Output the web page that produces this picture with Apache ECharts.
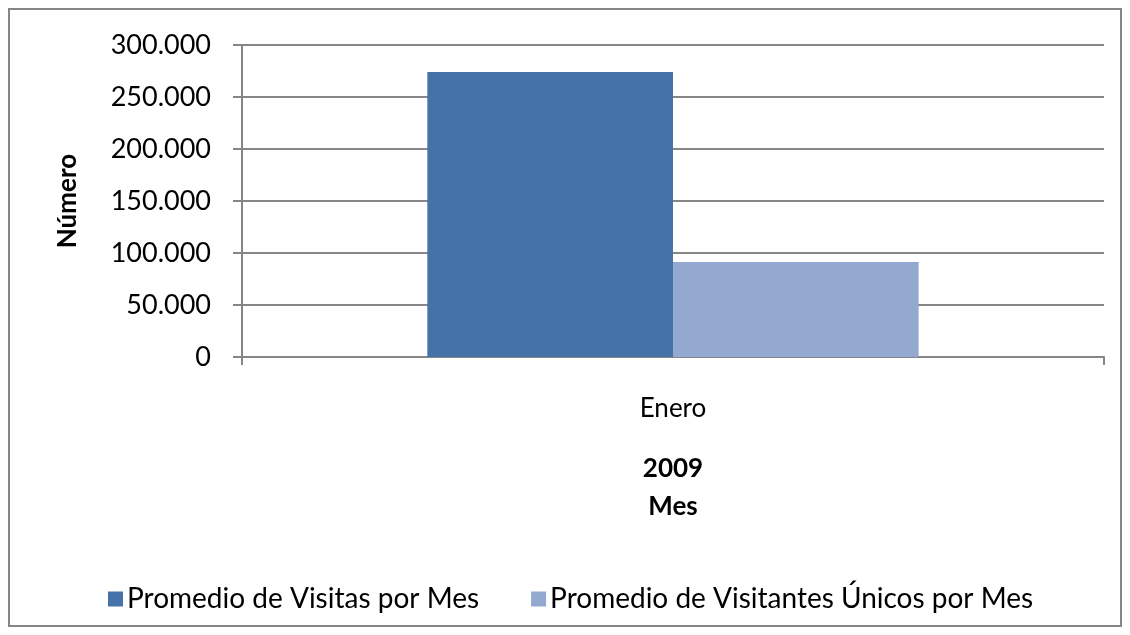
<!DOCTYPE html>
<html>
<head>
<meta charset="utf-8">
<script src="https://cdn.jsdelivr.net/npm/echarts@6/dist/echarts.min.js"></script>
<style>
html,body{margin:0;padding:0;background:#fff;}
#chart{width:1130px;height:635px;}
</style>
</head>
<body>
<div id="chart"></div>
<script>
const categories = ['Enero'];
const seriesNames = ['Promedio de Visitas por Mes', 'Promedio de Visitantes Únicos por Mes'];
const visitas = [274000];
const visitantesUnicos = [91300];
const yMin = 0, yMax = 300000, yInterval = 50000;

const FONT = 'Lato';
const GRAY = '#868686';

function fmt(v) {
  return String(v).replace(/\B(?=(\d{3})+(?!\d))/g, '.');
}

const chart = echarts.init(document.getElementById('chart'));
chart.setOption({
  backgroundColor: '#fff',
  animation: false,
  textStyle: { fontFamily: FONT },
  graphic: [{
    type: 'rect',
    shape: { x: 9, y: 9, width: 1112, height: 617 },
    style: { fill: 'none', stroke: GRAY, lineWidth: 2 },
    silent: true
  }],
  grid: { left: 242, right: 26, top: 45, bottom: 278 },
  legend: {
    left: 103, top: 580,
    itemWidth: 15, itemHeight: 15, itemGap: 52,
    icon: 'rect',
    textStyle: { fontFamily: FONT, fontSize: 28, color: '#000', padding: [0,0,0,-1] },
    data: seriesNames
  },
  xAxis: {
    type: 'category',
    data: categories,
    name: '2009\nMes',
    nameLocation: 'middle',
    nameGap: 93,
    nameTextStyle: { fontFamily: FONT, fontSize: 26, fontWeight: 'bold', color: '#000', lineHeight: 38 },
    axisLine: { lineStyle: { color: GRAY, width: 2 } },
    axisTick: { show: true, length: 8, lineStyle: { color: GRAY, width: 2 } },
    axisLabel: { margin: 39, fontFamily: FONT, fontSize: 26, color: '#000' }
  },
  yAxis: {
    type: 'value',
    min: yMin, max: yMax, interval: yInterval,
    name: 'Número',
    nameLocation: 'middle',
    nameGap: 161,
    nameTextStyle: { fontFamily: FONT, fontSize: 26, fontWeight: 'bold', color: '#000' },
    axisLine: { show: true, lineStyle: { color: GRAY, width: 2 } },
    axisTick: { show: true, length: 9, lineStyle: { color: GRAY, width: 2 } },
    axisLabel: { margin: 31, fontFamily: FONT, fontSize: 27, color: '#000', formatter: fmt },
    splitLine: { lineStyle: { color: GRAY, width: 2 } }
  },
  series: [
    { name: seriesNames[0], type: 'bar', data: visitas, barGap: '0%', barCategoryGap: '43%',
      itemStyle: { color: '#4573A7' } },
    { name: seriesNames[1], type: 'bar', data: visitantesUnicos,
      itemStyle: { color: '#94A9D0' } }
  ]
});
</script>
</body>
</html>
